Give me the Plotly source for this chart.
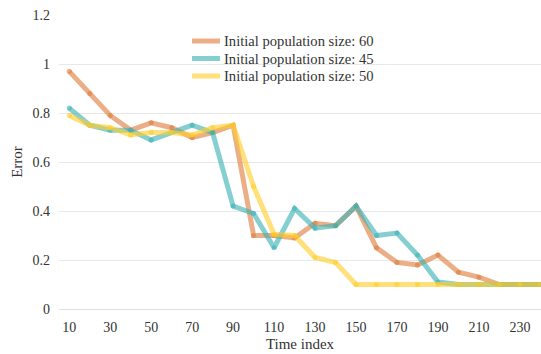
import plotly.graph_objects as go

time_index = [10, 20, 30, 40, 50, 60, 70, 80, 90, 100, 110, 120, 130, 140, 150, 160,
              170, 180, 190, 200, 210, 220, 230, 240]
pop60 = [0.97, 0.88, 0.79, 0.73, 0.76, 0.74, 0.70, 0.72, 0.75, 0.30, 0.30, 0.29, 0.35, 0.34,
         0.42, 0.25, 0.19, 0.18, 0.22, 0.15, 0.13, 0.10, 0.10, 0.10]
pop45 = [0.82, 0.75, 0.73, 0.73, 0.69, 0.72, 0.75, 0.72, 0.42, 0.39, 0.25, 0.41, 0.33, 0.34,
         0.42, 0.30, 0.31, 0.22, 0.11, 0.10, 0.10, 0.10, 0.10, 0.10]
pop50 = [0.79, 0.75, 0.74, 0.71, 0.72, 0.72, 0.71, 0.74, 0.75, 0.50, 0.305, 0.30, 0.21, 0.19,
         0.10, 0.10, 0.10, 0.10, 0.10, 0.10, 0.10, 0.10, 0.10, 0.10]
names = ["Initial population size: 60", "Initial population size: 45", "Initial population size: 50"]
colors = ["rgba(222,125,60,0.62)", "rgba(60,178,180,0.62)", "rgba(255,205,40,0.62)"]
x_ticks = [10, 30, 50, 70, 90, 110, 130, 150, 170, 190, 210, 230]
y_ticks = [0, 0.2, 0.4, 0.6, 0.8, 1, 1.2]

W, H = 541, 354
ML, MR, MT, MB = 59, 0, 15, 45
PW, PH = W - ML - MR, H - MT - MB

fig = go.Figure()
for name, ys, c in zip(names, [pop60, pop45, pop50], colors):
    fig.add_trace(go.Scatter(
        x=time_index, y=ys, name=name, mode="lines+markers",
        line=dict(color=c, width=5),
        marker=dict(color=c, size=5),
        showlegend=False,
    ))

font = '"Liberation Serif", "Times New Roman", Times, serif'

# legend drawn as line samples + text labels
leg_rows_px = [41, 58.5, 76]
for name, c, ypx in zip(names, colors, leg_rows_px):
    yp = 1 - (ypx - MT) / PH
    fig.add_shape(type="line", xref="paper", yref="paper",
                  x0=(192 - ML) / PW, x1=(220 - ML) / PW, y0=yp, y1=yp,
                  line=dict(color=c, width=5))
    fig.add_annotation(xref="paper", yref="paper", x=(222 - ML) / PW, y=yp,
                       xanchor="left", yanchor="middle", text=name, showarrow=False,
                       font=dict(family=font, size=14.6, color="#333"))

fig.update_layout(
    width=W, height=H,
    margin=dict(l=ML, r=MR, t=MT, b=MB),
    paper_bgcolor="white", plot_bgcolor="white",
    font=dict(family=font, size=14, color="#333"),
    showlegend=False,
    xaxis=dict(range=[5, 240.3], tickvals=x_ticks, showgrid=False, zeroline=False,
               showline=False, ticks="", tickfont=dict(family=font, size=14), ticklabelstandoff=8,
               title=dict(text="Time index", font=dict(family=font, size=15), standoff=4)),
    yaxis=dict(range=[0, 1.2], tickvals=y_ticks, ticktext=["0", "0.2", "0.4", "0.6", "0.8", "1", "1.2"],
               showgrid=True, gridcolor="#e8e8e8", gridwidth=1, zeroline=True,
               zerolinecolor="#e0e0e0", zerolinewidth=1, showline=False, ticks="",
               tickfont=dict(family=font, size=14), ticklabelstandoff=8,
               title=dict(text="Error", font=dict(family=font, size=15), standoff=6)),
)
fig.write_html("out.html")
